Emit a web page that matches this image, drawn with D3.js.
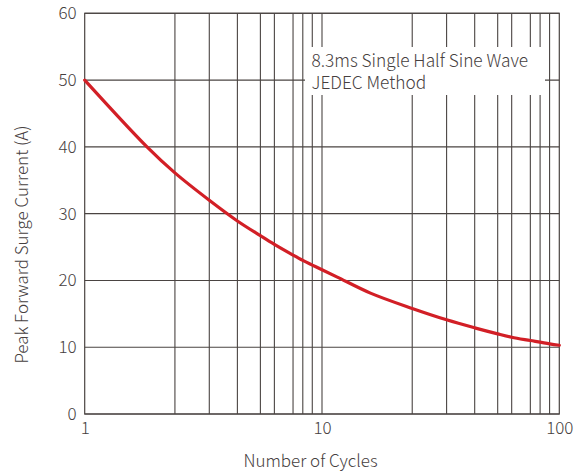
<!DOCTYPE html>
<html>
<head>
<meta charset="utf-8">
<script src="https://cdn.jsdelivr.net/npm/d3@7"></script>
<style>
  html, body { margin: 0; padding: 0; background: #ffffff; }
  svg { display: block; }
  text { font-family: "Noto Sans CJK SC", "Noto Sans", sans-serif; font-weight: 300; fill: #464040; }
</style>
</head>
<body>
<svg id="chart" width="585" height="475"></svg>
<script>
// ---- data ----
const cycles  = [1, 1.83, 2.4, 3.35, 4.4, 5.5, 6.3, 7.55, 8.3, 9.1, 10, 11.6, 16, 24, 33.5, 44, 55, 63, 75.5, 91, 100];
const current = [50, 40, 36.1, 32.0, 28.9, 26.7, 25.4, 23.8, 23.0, 22.3, 21.6, 20.5, 18.1, 15.8, 14.1, 12.9, 12.0, 11.5, 11.0, 10.5, 10.3];
const xTickLabels = [1, 10, 100];
const xGridValues = [2.4, 3.35, 4.4, 5.5, 6.3, 7.55, 8.3, 9.1, 10, 24, 33.5, 44, 55, 63, 75.5, 83, 91];
const yTickLabels = [0, 10, 20, 30, 40, 50, 60];
const noteLines = ["8.3ms Single Half Sine Wave", "JEDEC Method"];
const xTitle = "Number of Cycles";
const yTitle = "Peak Forward Surge Current (A)";

// ---- layout ----
const mLeft = 84.7, mRight = 559.3, mTop = 13.3, mBottom = 414;
const svg = d3.select("#chart");

const x = d3.scaleLog().domain([1, 100]).range([mLeft, mRight]);
const y = d3.scaleLinear().domain([0, 60]).range([mBottom, mTop]);

const gridColor = "#4a4442";
const textColor = "#464040";
const fontStack = '"Noto Sans CJK SC", "Noto Sans", sans-serif';

// vertical grid
svg.append("g").selectAll("line").data(xGridValues).join("line")
  .attr("x1", d => x(d)).attr("x2", d => x(d))
  .attr("y1", mTop).attr("y2", mBottom)
  .attr("stroke", gridColor).attr("stroke-width", 1.1);

// horizontal grid
svg.append("g").selectAll("line").data(yTickLabels).join("line")
  .attr("x1", mLeft).attr("x2", mRight)
  .attr("y1", d => y(d)).attr("y2", d => y(d))
  .attr("stroke", gridColor).attr("stroke-width", 1.1);

// frame
svg.append("rect")
  .attr("x", mLeft).attr("y", mTop)
  .attr("width", mRight - mLeft).attr("height", mBottom - mTop)
  .attr("fill", "none").attr("stroke", gridColor).attr("stroke-width", 1.2);

// annotation box (white background covering grid)
const noteG = svg.append("g");
noteG.append("rect")
  .attr("x", 305).attr("y", 47).attr("width", 240).attr("height", 48)
  .attr("fill", "#ffffff");
noteG.append("text")
  .attr("font-size", 17.3)
  .selectAll("tspan").data(noteLines).join("tspan")
  .attr("x", 311.5)
  .attr("y", (d, i) => 67 + i * 22.3)
  .text(d => d);

// curve
const line = d3.line()
  .x((d, i) => x(cycles[i]))
  .y(d => y(d))
  .curve(d3.curveCatmullRom.alpha(0.5));
svg.append("path")
  .datum(current)
  .attr("d", line)
  .attr("fill", "none")
  .attr("stroke", "#d21f26")
  .attr("stroke-width", 3.2)
  .attr("stroke-linecap", "round");

// y axis
const yAxis = svg.append("g")
  .attr("transform", `translate(${mLeft},0)`)
  .call(d3.axisLeft(y).tickValues(yTickLabels).tickSize(0).tickPadding(8).tickFormat(d3.format("d")));
yAxis.select(".domain").remove();
yAxis.selectAll("text").attr("font-size", 17).style("font-family", fontStack).style("font-weight", 300).attr("fill", textColor);

// x axis
const xAxis = svg.append("g")
  .attr("transform", `translate(0,${mBottom})`)
  .call(d3.axisBottom(x).tickValues(xTickLabels).tickSize(0).tickPadding(8).tickFormat(d3.format("d")));
xAxis.select(".domain").remove();
xAxis.selectAll("text").attr("font-size", 17).style("font-family", fontStack).style("font-weight", 300).attr("fill", textColor);

// axis titles
svg.append("text")
  .attr("x", 310.5).attr("y", 467)
  .attr("text-anchor", "middle")
  .attr("font-size", 17)
  .text(xTitle);

svg.append("text")
  .attr("transform", "translate(28,244.5) rotate(-90)")
  .attr("text-anchor", "middle")
  .attr("font-size", 17)
  .text(yTitle);
</script>
</body>
</html>
